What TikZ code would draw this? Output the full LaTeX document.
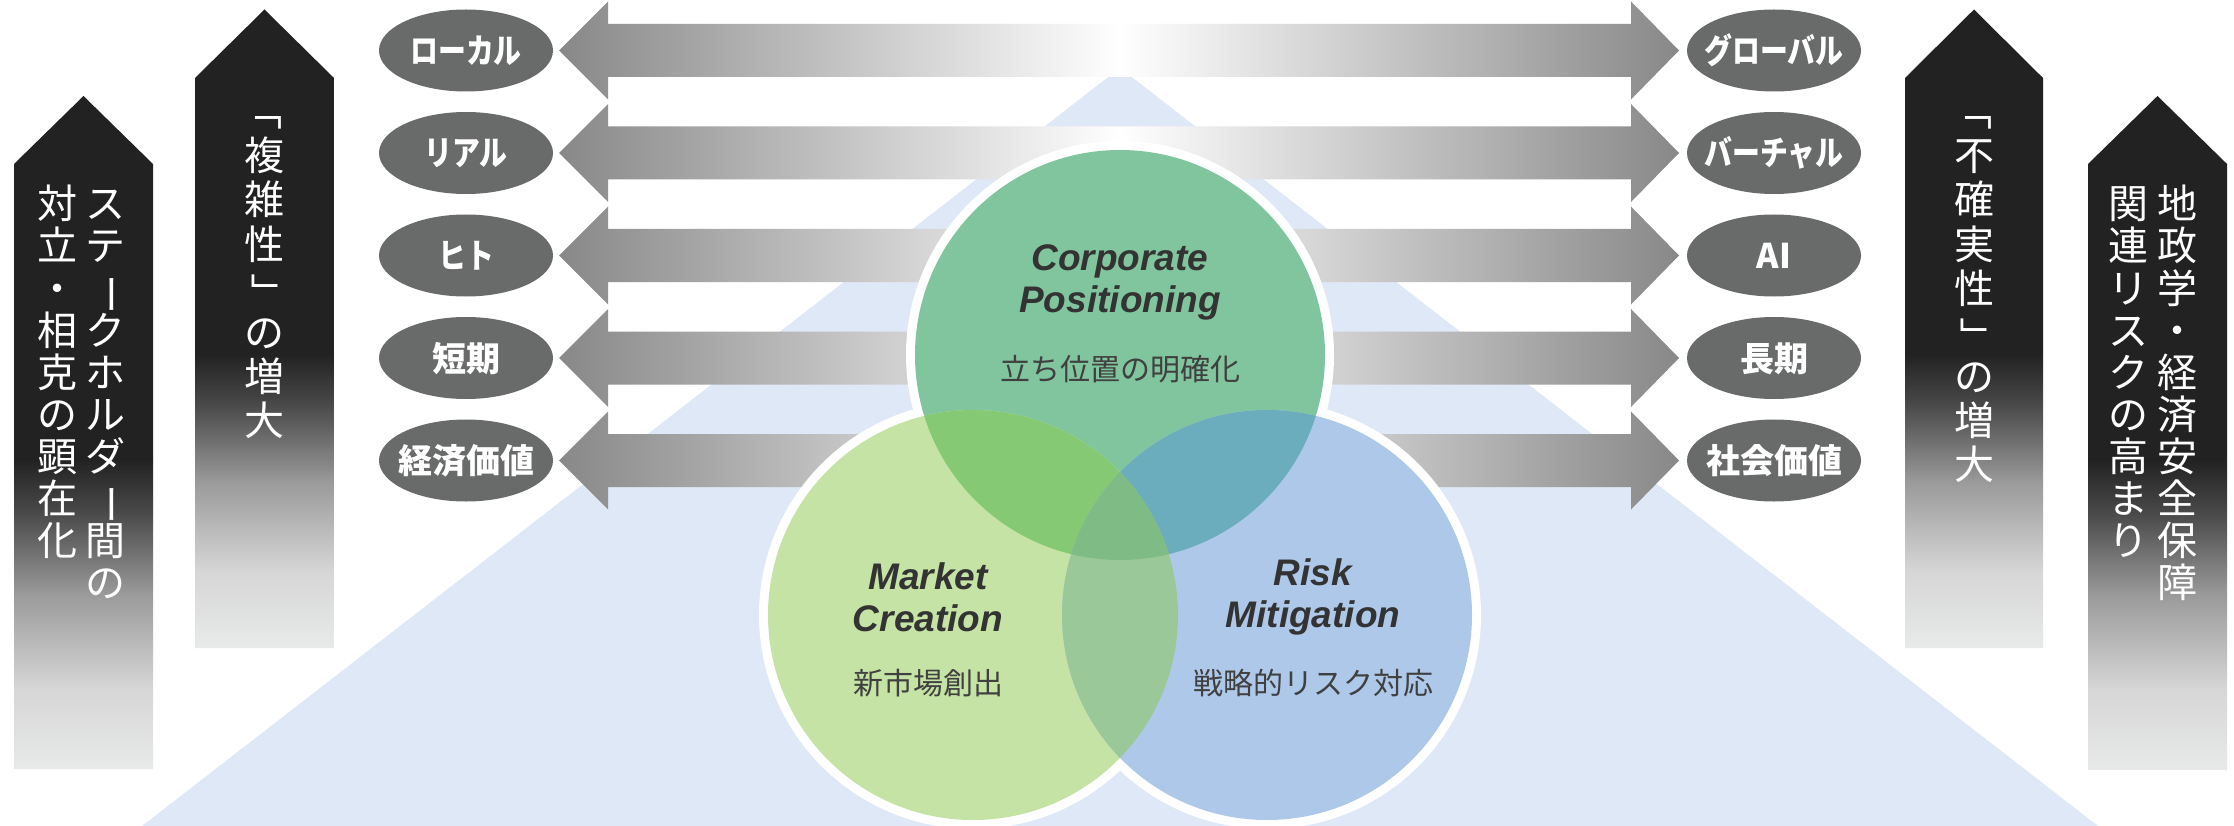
\documentclass[tikz,border=0pt]{standalone}
\usepackage{fontspec}
\usetikzlibrary{shapes.geometric,calc}
\newfontfamily\jp{Noto Sans CJK JP}
\newfontfamily\latsans{Liberation Sans}
\definecolor{tri}{RGB}{223,232,246}
\definecolor{bandgray}{RGB}{136,136,136}
\definecolor{ellgray}{RGB}{105,107,106}
\definecolor{cTop}{RGB}{128,197,158}
\definecolor{cLeft}{RGB}{197,227,164}
\definecolor{cRight}{RGB}{174,200,234}
\definecolor{cTL}{RGB}{134,201,117}
\definecolor{cTR}{RGB}{107,173,188}
\definecolor{cLR}{RGB}{155,200,152}
\definecolor{cAll}{RGB}{127,188,133}
\definecolor{txt}{RGB}{51,51,51}
\definecolor{subtxt}{RGB}{64,64,64}
\definecolor{arA}{RGB}{232,233,233}
\definecolor{arB}{RGB}{214,214,214}
\definecolor{arC}{RGB}{154,154,154}
\definecolor{arD}{RGB}{74,74,74}
\definecolor{arE}{RGB}{34,34,34}
\pgfdeclareverticalshading{blkshade}{100bp}{color(0bp)=(arA); color(25bp)=(arA); color(31bp)=(arB); color(38bp)=(arC); color(44bp)=(arD); color(48bp)=(arE); color(100bp)=(arE)}
\newcommand{\vbar}{\rotatebox[origin=c]{-90}{ー}}
\newcommand{\vopen}{\rotatebox[origin=c]{-90}{「}}
\newcommand{\vclose}{\rotatebox[origin=c]{-90}{」}}
\begin{document}
\begin{tikzpicture}[x=1pt,y=-1pt,
  ell/.style={ellipse, fill=ellgray, minimum width=174pt, minimum height=82pt, inner sep=0pt,
    text=white, font=\jp\bfseries\fontsize{34}{34}\selectfont, text height=30pt, text depth=4pt},
  vch/.style={inner sep=0pt, text=white, font=\jp\fontsize{40}{40}\selectfont, text height=35pt, text depth=5pt},
  ctitle/.style={align=center, inner sep=0pt, text=txt, font=\latsans\bfseries\itshape\fontsize{37}{42}\selectfont},
  csub/.style={inner sep=0pt, text=subtxt, font=\jp\fontsize{30}{30}\selectfont, text height=26pt, text depth=4pt},
  blackar/.style={shading=blkshade}
]
\useasboundingbox (0,0) rectangle (2234,826);
\fill[white] (0,0) rectangle (2234,826);

% blue background triangle
\fill[tri] (1120,68) -- (2098,826) -- (142,826) -- cycle;

% horizontal gradient arrows
\foreach \yy in {50.5,153,255.5,358,460.5}{
  \path[left color=bandgray, right color=white]
    (559,\yy) -- (608,\yy-49) -- (608,\yy-26.5) -- (1120,\yy-26.5) -- (1120,\yy+26.5)
    -- (608,\yy+26.5) -- (608,\yy+49) -- cycle;
  \path[left color=white, right color=bandgray]
    (1679,\yy) -- (1631,\yy-49) -- (1631,\yy-26.5) -- (1120,\yy-26.5) -- (1120,\yy+26.5)
    -- (1631,\yy+26.5) -- (1631,\yy+49) -- cycle;
}

% ellipses
\node[ell] (L1) at (466,50.5) {\makebox[0pt]{\scalebox{0.82}[1]{ローカル}}};
\node[ell] (L2) at (466,153) {\makebox[0pt]{\scalebox{0.82}[1]{リアル}}};
\node[ell] (L3) at (466,255.5) {\makebox[0pt]{\scalebox{0.82}[1]{ヒト}}};
\node[ell] (L4) at (466,358) {\makebox[0pt]{短期}};
\node[ell] (L5) at (466,460.5) {\makebox[0pt]{経済価値}};
\node[ell] (R1) at (1774,50.5) {\makebox[0pt]{\scalebox{0.82}[1]{グローバル}}};
\node[ell] (R2) at (1774,153) {\makebox[0pt]{\scalebox{0.82}[1]{バーチャル}}};
\node[ell] (R3) at (1774,255.5) {\makebox[0pt]{AI}};
\node[ell] (R4) at (1774,358) {\makebox[0pt]{長期}};
\node[ell] (R5) at (1774,460.5) {\makebox[0pt]{社会価値}};

% venn circles
\coordinate (cT) at (1120,355);
\coordinate (cL) at (973,615);
\coordinate (cR) at (1267,615);
\fill[white] (cT) circle (214pt);
\fill[white] (cL) circle (214pt);
\fill[white] (cR) circle (214pt);
\fill[cTop] (cT) circle (205pt);
\fill[cLeft] (cL) circle (205pt);
\fill[cRight] (cR) circle (205pt);
\begin{scope}\clip (cT) circle (205pt); \fill[cTL] (cL) circle (205pt);\end{scope}
\begin{scope}\clip (cT) circle (205pt); \fill[cTR] (cR) circle (205pt);\end{scope}
\begin{scope}\clip (cL) circle (205pt); \fill[cLR] (cR) circle (205pt);\end{scope}
\begin{scope}\clip (cT) circle (205pt); \clip (cL) circle (205pt); \fill[cAll] (cR) circle (205pt);\end{scope}

\node[ctitle] (tCP) at (1120,282.5) {Corporate\\Positioning};
\node[csub] (sCP) at (1120,369) {立ち位置の明確化};
\node[ctitle] (tMC) at (928,597) {Market\\Creation};
\node[csub] (sMC) at (928,683) {新市場創出};
\node[ctitle] (tRM) at (1313,597) {Risk\\Mitigation};
\node[csub] (sRM) at (1313,683) {戦略的リスク対応};

% black pentagon arrows
\path[blackar] (14,769) -- (14,164) -- (83.5,96) -- (153,164) -- (153,769) -- cycle;
\path[blackar] (195,648) -- (195,78) -- (264.5,9.5) -- (334,78) -- (334,648) -- cycle;
\path[blackar] (1905,648) -- (1905,78) -- (1974,9.5) -- (2043,78) -- (2043,648) -- cycle;
\path[blackar] (2088,770) -- (2088,164) -- (2157.5,96) -- (2227,164) -- (2227,770) -- cycle;

% vertical texts
\foreach \ch [count=\i from 0] in {ス,テ,\vbar,ク,ホ,ル,ダ,\vbar,間,の}
  \node[vch] (sa-\i) at (105,204+42*\i) {\ch};
\foreach \ch [count=\i from 0] in {対,立,・,相,克,の,顕,在,化}
  \node[vch] (sb-\i) at (57,204+42*\i) {\ch};
\foreach \ch [count=\i from 0] in {\vopen,複,雑,性,\vclose,の,増,大}
  \node[vch] (fk-\i) at (264.5,112+44*\i) {\ch};
\foreach \ch [count=\i from 0] in {\vopen,不,確,実,性,\vclose,の,増,大}
  \node[vch] (fu-\i) at (1974,112+44*\i) {\ch};
\foreach \ch [count=\i from 0] in {地,政,学,・,経,済,安,全,保,障}
  \node[vch] (ga-\i) at (2177,204+42*\i) {\ch};
\foreach \ch [count=\i from 0] in {関,連,リ,ス,ク,の,高,ま,り}
  \node[vch] (gb-\i) at (2128,204+42*\i) {\ch};
\end{tikzpicture}
\end{document}
